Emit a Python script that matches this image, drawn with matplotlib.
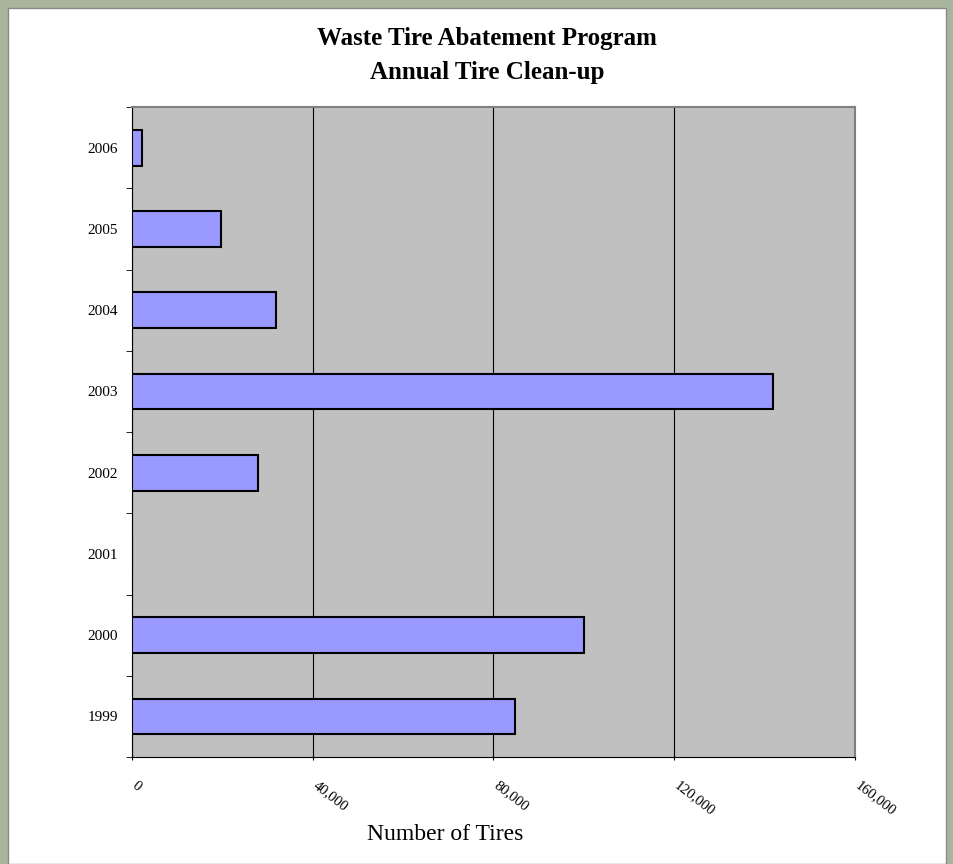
import matplotlib.pyplot as plt
from matplotlib.patches import Rectangle

years = ['1999', '2000', '2001', '2002', '2003', '2004', '2005', '2006']
tires = [84800, 100000, 0, 27900, 141900, 31900, 19700, 2200]
xticks = [0, 40000, 80000, 120000, 160000]
xticklabels = ['0', '40,000', '80,000', '120,000', '160,000']


def main():
    plt.rcParams['font.family'] = ['Liberation Serif', 'DejaVu Serif']

    fig = plt.figure(figsize=(9.54, 8.64), dpi=100)
    fig.patch.set_facecolor('#a9b49c')
    # white panel behind the chart
    fig.patches.append(Rectangle((8 / 954, 0), 938 / 954, 856 / 864,
                                 transform=fig.transFigure, facecolor='white',
                                 edgecolor='#8a8a8a', lw=1, zorder=-1))

    ax = fig.add_axes([132 / 954, 1 - 757 / 864, 723 / 954, 650 / 864])
    ax.set_zorder(2)
    ax.set_facecolor('#c0c0c0')

    pos = list(range(len(years)))
    ax.barh(pos, tires, height=0.44, color='#9999ff', edgecolor='black',
            linewidth=1.5, zorder=3)

    ax.set_xlim(0, 160000)
    ax.set_ylim(-0.5, len(years) - 0.5)
    ax.set_xticks(xticks)
    ax.set_xticklabels(xticklabels, rotation=-38, ha='left', va='baseline',
                       rotation_mode='anchor', fontsize=10.5)
    ax.set_yticks(pos)
    ax.set_yticklabels(years, fontsize=11)
    ax.set_yticks([p + 0.5 for p in range(-1, len(years))], minor=True)
    ax.tick_params(axis='y', which='major', length=0, pad=10)
    ax.tick_params(axis='y', which='minor', length=4, direction='out')
    ax.tick_params(axis='x', length=5, direction='inout', pad=19)

    ax.grid(axis='x', color='black', lw=0.8, zorder=1)
    for s in ['top', 'right']:
        ax.spines[s].set_color('#808080')
        ax.spines[s].set_linewidth(1.5)
    ax.spines['left'].set_color('black')
    ax.spines['bottom'].set_color('black')

    fig.text(487 / 954, 1 - 38 / 864, 'Waste Tire Abatement Program',
             ha='center', va='center', fontsize=18, fontweight='bold')
    fig.text(487 / 954, 1 - 72 / 864, 'Annual Tire Clean-up',
             ha='center', va='center', fontsize=18, fontweight='bold')
    fig.text(445 / 954, 1 - 835 / 864, 'Number of Tires',
             ha='center', va='center', fontsize=17)

    fig.savefig('out.png', dpi=100, facecolor=fig.get_facecolor())


if __name__ == "__main__":
    main()
